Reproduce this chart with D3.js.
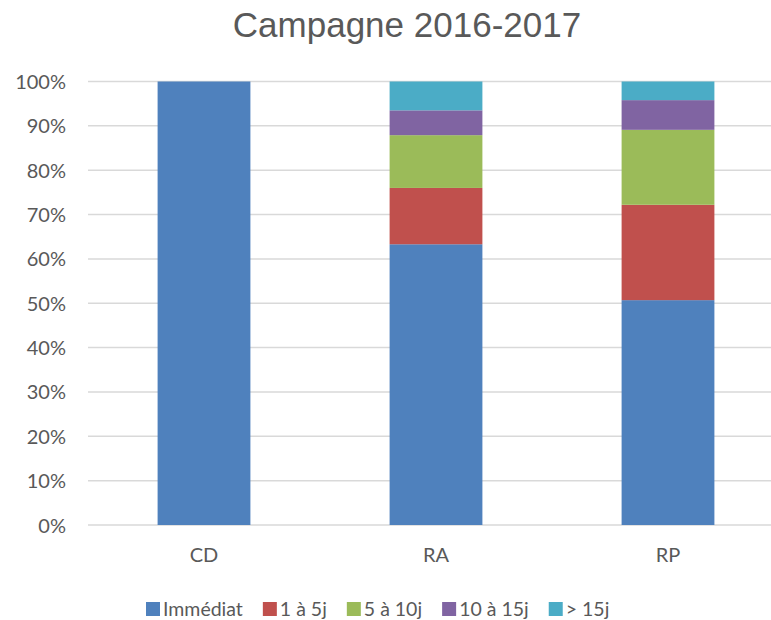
<!DOCTYPE html>
<html><head><meta charset="utf-8">
<script src="https://cdn.jsdelivr.net/npm/d3@7"></script>
<style>body{margin:0;background:#fff}svg{display:block}</style>
</head><body>
<svg id="c" width="771" height="620"></svg>
<script>
const categories = ["CD", "RA", "RP"];
const seriesNames = ["Immédiat", "1 à 5j", "5 à 10j", "10 à 15j", "> 15j"];
const immediat = [1.000, 0.633, 0.507];
const j1a5 = [0.000, 0.127, 0.215];
const j5a10 = [0.000, 0.119, 0.169];
const j10a15 = [0.000, 0.056, 0.067];
const plus15 = [0.000, 0.065, 0.042];
const yTicks = [0, 0.1, 0.2, 0.3, 0.4, 0.5, 0.6, 0.7, 0.8, 0.9, 1.0];
const colors = ["#4f81bd", "#c0504d", "#9bbb59", "#8064a2", "#4bacc6"];

const seriesValues = [immediat, j1a5, j5a10, j10a15, plus15];
const rows = categories.map((c, i) => {
  const r = {cat: c};
  seriesNames.forEach((s, k) => r[s] = seriesValues[k][i]);
  return r;
});
const stacked = d3.stack().keys(seriesNames)(rows);

const svg = d3.select("#c");
const font = "Lato, 'Open Sans', sans-serif";
const textCol = "#595959";

const x = d3.scaleBand().domain(categories).range([88, 784]).paddingInner(0.6).paddingOuter(0.3);
const y = d3.scaleLinear().domain([0, 1]).range([525, 81.5]);

// gridlines
svg.append("g").selectAll("line").data(yTicks).join("line")
  .attr("x1", 88).attr("x2", 784)
  .attr("y1", d => y(d)).attr("y2", d => y(d))
  .attr("stroke", "#d9d9d9").attr("stroke-width", 1.5);

// bars
svg.append("g").selectAll("g").data(stacked).join("g")
  .attr("fill", (d, i) => colors[i])
  .selectAll("rect").data(d => d).join("rect")
  .attr("x", d => x(d.data.cat))
  .attr("width", x.bandwidth())
  .attr("y", d => y(d[1]))
  .attr("height", d => Math.max(0, y(d[0]) - y(d[1])));

// y axis
const yAxis = svg.append("g").attr("transform", "translate(66,0)")
  .call(d3.axisLeft(y).tickValues(yTicks).tickFormat(d3.format(".0%")).tickSize(0).tickPadding(0));
yAxis.select(".domain").remove();
yAxis.selectAll("text").attr("font-family", font).attr("font-size", 20).attr("fill", textCol).attr("dy", "0.35em");

// x axis
const xAxis = svg.append("g").attr("transform", "translate(0,548)")
  .call(d3.axisBottom(x).tickSize(0).tickPadding(0));
xAxis.select(".domain").remove();
xAxis.selectAll("text").attr("font-family", font).attr("font-size", 20).attr("fill", textCol).attr("dy", "0.71em");

// title
svg.append("text").attr("x", 407).attr("y", 37).attr("text-anchor", "middle")
  .attr("font-family", "'Liberation Sans', Arial, sans-serif").attr("font-size", 35)
  .attr("fill", textCol).text("Campagne 2016-2017");

// legend
const leg = svg.append("g");
let lx = 146;
seriesNames.forEach((s, i) => {
  leg.append("rect").attr("x", lx).attr("y", 602).attr("width", 14).attr("height", 14).attr("fill", colors[i]);
  const t = leg.append("text").attr("x", lx + 17).attr("y", 609).attr("dy", "0.35em")
    .attr("font-family", font).attr("font-size", 19.5).attr("fill", textCol).text(s);
  lx += 17 + t.node().getComputedTextLength() + 20;
});
</script>
</body></html>
